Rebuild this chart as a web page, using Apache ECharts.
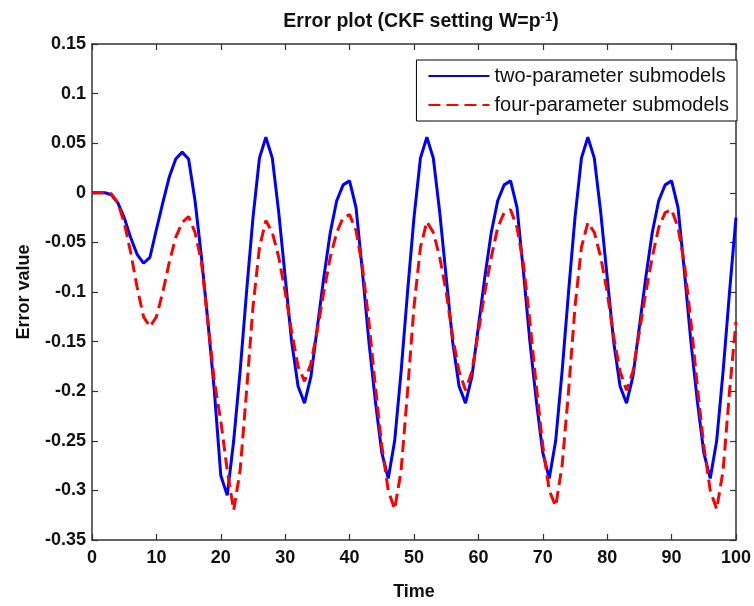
<!DOCTYPE html>
<html>
<head>
<meta charset="utf-8">
<script src="https://cdn.jsdelivr.net/npm/echarts@6/dist/echarts.min.js"></script>
<style>html,body{margin:0;padding:0;background:#fff}#c{width:754px;height:606px}</style>
</head>
<body>
<div id="c"></div>
<script>
var seriesNames = ['two-parameter submodels', 'four-parameter submodels'];
var xTicks = [0, 10, 20, 30, 40, 50, 60, 70, 80, 90, 100];
var yTicks = [0.15, 0.1, 0.05, 0, -0.05, -0.1, -0.15, -0.2, -0.25, -0.3, -0.35];
var twoParam = [
  0, 0, 0, -0.002, -0.01, -0.025, -0.045, -0.062, -0.071, -0.065,
  -0.037, -0.01, 0.016, 0.034, 0.041, 0.034, -0.008, -0.065, -0.13, -0.2,
  -0.285, -0.305, -0.25, -0.18, -0.1, -0.025, 0.035, 0.056, 0.035, -0.02,
  -0.085, -0.15, -0.195, -0.212, -0.185, -0.135, -0.085, -0.04, -0.008, 0.008,
  0.012, -0.015, -0.08, -0.15, -0.21, -0.262, -0.288, -0.25, -0.18, -0.1,
  -0.025, 0.035, 0.056, 0.035, -0.02, -0.085, -0.15, -0.195, -0.212, -0.185,
  -0.135, -0.085, -0.04, -0.008, 0.008, 0.012, -0.015, -0.08, -0.15, -0.21,
  -0.262, -0.288, -0.25, -0.18, -0.1, -0.025, 0.035, 0.056, 0.035, -0.02,
  -0.085, -0.15, -0.195, -0.212, -0.185, -0.135, -0.085, -0.04, -0.008, 0.008,
  0.012, -0.015, -0.08, -0.15, -0.21, -0.262, -0.288, -0.25, -0.18, -0.1,
  -0.025
];
var fourParam = [
  0, 0, 0, -0.001, -0.01, -0.03, -0.06, -0.095, -0.125, -0.135,
  -0.125, -0.1, -0.07, -0.045, -0.03, -0.024, -0.04, -0.07, -0.13, -0.19,
  -0.23, -0.28, -0.32, -0.28, -0.2, -0.115, -0.055, -0.028, -0.04, -0.065,
  -0.1, -0.14, -0.175, -0.19, -0.172, -0.138, -0.1, -0.065, -0.04, -0.025,
  -0.022, -0.038, -0.075, -0.13, -0.195, -0.255, -0.3, -0.319, -0.28, -0.2,
  -0.115, -0.055, -0.029, -0.04, -0.065, -0.1, -0.145, -0.18, -0.199, -0.18,
  -0.14, -0.1, -0.065, -0.035, -0.02, -0.017, -0.035, -0.072, -0.13, -0.195,
  -0.255, -0.3, -0.316, -0.275, -0.2, -0.115, -0.055, -0.03, -0.04, -0.065,
  -0.1, -0.145, -0.18, -0.199, -0.18, -0.14, -0.1, -0.065, -0.035, -0.02,
  -0.017, -0.035, -0.072, -0.13, -0.195, -0.255, -0.3, -0.319, -0.28, -0.2,
  -0.13
];
var timeSteps = twoParam.map(function (_, i) { return i; });

var boldFont = "'Liberation Sans', Arial, sans-serif";
var axisLine = { show: true, onZero: false, lineStyle: { color: '#333', width: 1.5 } };
var tick = { show: true, inside: true, length: 6, lineStyle: { color: '#333', width: 1.2 } };
var labelStyle = { fontFamily: boldFont, fontWeight: 'bold', fontSize: 18, color: '#111' };

var chart = echarts.init(document.getElementById('c'), null, { renderer: 'canvas' });
chart.setOption({
  backgroundColor: '#fff',
  animation: false,
  title: {
    text: 'Error plot (CKF setting W=p{sup|-1})',
    left: 416, top: 6, textAlign: 'center',
    textStyle: {
      fontFamily: boldFont, fontWeight: 'bold', fontSize: 19.5, color: '#111',
      rich: { sup: { fontFamily: boldFont, fontWeight: 'bold', fontSize: 13, verticalAlign: 'top', padding: [0, 0, 8, 0], color: '#111' } }
    }
  },
  legend: {
    orient: 'vertical',
    right: 17, top: 60,
    data: seriesNames,
    itemWidth: 61, itemHeight: 14, itemGap: 9,
    padding: [6, 8, 6, 11],
    borderColor: '#000', borderWidth: 1,
    backgroundColor: '#fff',
    itemStyle: { opacity: 0 },
    textStyle: { fontFamily: "'Liberation Sans', Arial, sans-serif", fontSize: 20, color: '#111' }
  },
  grid: { left: 92, right: 14, top: 44, bottom: 54, containLabel: false },
  xAxis: [{
    type: 'value', position: 'bottom', min: xTicks[0], max: xTicks[xTicks.length - 1], interval: xTicks[1] - xTicks[0],
    name: 'Time', nameLocation: 'middle', nameGap: 43,
    nameTextStyle: labelStyle,
    axisLine: axisLine, axisTick: tick, splitLine: { show: false },
    axisLabel: Object.assign({ margin: 9 }, labelStyle)
  }, {
    type: 'value', position: 'top', min: xTicks[0], max: xTicks[xTicks.length - 1], interval: xTicks[1] - xTicks[0],
    axisLine: axisLine, axisTick: tick, splitLine: { show: false }, axisLabel: { show: false }
  }],
  yAxis: [{
    type: 'value', position: 'left', min: yTicks[yTicks.length - 1], max: yTicks[0], interval: 0.05,
    name: 'Error value', nameLocation: 'middle', nameGap: 59,
    nameTextStyle: labelStyle,
    axisLine: axisLine, axisTick: tick, splitLine: { show: false },
    axisLabel: Object.assign({ margin: 6 }, labelStyle)
  }, {
    type: 'value', position: 'right', min: yTicks[yTicks.length - 1], max: yTicks[0], interval: 0.05,
    axisLine: axisLine, axisTick: tick, splitLine: { show: false }, axisLabel: { show: false }
  }],
  series: [{
    name: seriesNames[0], type: 'line', xAxisIndex: 0, yAxisIndex: 0,
    data: timeSteps.map(function (t, i) { return [t, twoParam[i]]; }),
    symbol: 'none', showSymbol: false,
    lineStyle: { color: '#0000ff', width: 3 }, itemStyle: { color: '#0000ff' }, z: 2
  }, {
    name: seriesNames[1], type: 'line', xAxisIndex: 0, yAxisIndex: 0,
    data: timeSteps.map(function (t, i) { return [t, fourParam[i]]; }),
    symbol: 'none', showSymbol: false,
    lineStyle: { color: '#ff0000', width: 3, type: [12, 6] }, itemStyle: { color: '#ff0000' }, z: 3
  }]
});
</script>
</body>
</html>
